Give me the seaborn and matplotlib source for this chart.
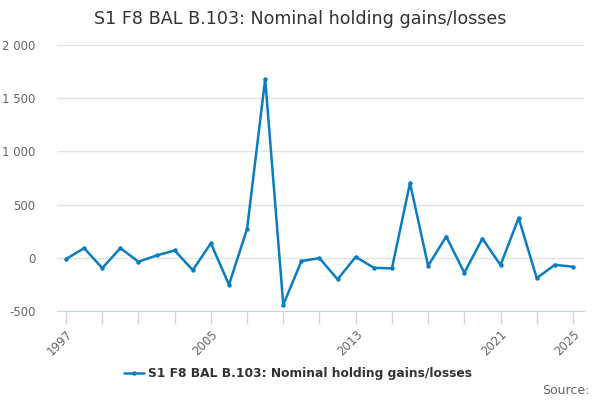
import matplotlib
matplotlib.use("Agg")
import matplotlib.pyplot as plt
import matplotlib.ticker as mticker
import pandas as pd
import seaborn as sns

# Data
years = list(range(1997, 2026))
values = [-12, 91, -97, 91, -37, 22, 69, -116, 137, -253, 272, 1681, -441,
          -31, -3, -203, 9, -94, -100, 703, -75, 200, -141, 181, -69, 375,
          -191, -66, -84]
series_name = "S1 F8 BAL B.103: Nominal holding gains/losses"
tick_years = list(range(1997, 2026, 2))
labelled_years = [1997, 2005, 2013, 2021, 2025]

df = pd.DataFrame({"year": years, "value": values})

sns.set_style("white")
plt.rcParams['font.family'] = ['DejaVu Sans']

fig = plt.figure(figsize=(6, 4), dpi=100)
ax = fig.add_axes([0.095, 0.2225, 0.878, 0.665])

line_color = "#0a7dc2"
sns.lineplot(data=df, x="year", y="value", ax=ax, color=line_color,
             linewidth=1.8, marker="o", markersize=3.2, markeredgewidth=0,
             label=series_name)

ax.set_xlim(1996.5, 2025.6)
ax.set_ylim(-500, 2000)
ax.yaxis.set_major_locator(mticker.MultipleLocator(500))
ax.yaxis.set_major_formatter(mticker.FuncFormatter(
    lambda v, p: f"{int(v):,}".replace(",", " ")))
ax.grid(axis="y", color="#e3e3e3", linewidth=1)
ax.set_axisbelow(True)

ax.set_xticks(tick_years)
ax.set_xticklabels([str(y) if y in labelled_years else "" for y in tick_years],
                   rotation=45, ha="right", rotation_mode="anchor")
ax.tick_params(axis="x", bottom=True, direction="out", length=9, width=1,
               color="#ccd6eb", labelsize=8.5, labelcolor="#666666", pad=3)
ax.tick_params(axis="y", left=False, labelsize=8.5, labelcolor="#666666",
               pad=12)

for s in ["top", "right", "left"]:
    ax.spines[s].set_visible(False)
ax.spines["bottom"].set_color("#ccd6eb")
ax.set_xlabel("")
ax.set_ylabel("")

fig.suptitle(series_name, x=0.5, y=0.975, fontsize=12.6, color="#333333")

leg = ax.legend(loc="upper center", bbox_to_anchor=(0.458, -0.17),
                frameon=False, fontsize=8.8, handlelength=1.6,
                handletextpad=0.4)
for t in leg.get_texts():
    t.set_fontweight("bold")
    t.set_color("#333333")

fig.text(0.982, 0.008, "Source:", ha="right", va="bottom", fontsize=9,
         color="#666666")

fig.savefig("out.png", dpi=100)
